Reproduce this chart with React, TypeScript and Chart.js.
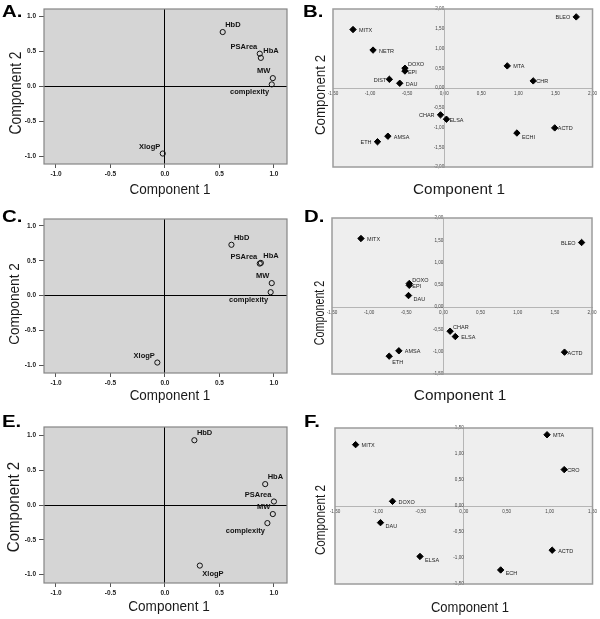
import React, { useEffect, useRef } from 'react';
import { Chart, registerables } from 'chart.js';

Chart.register(...registerables);

// ---------- Panel A (component loadings) ----------
const aVars = ['HbD', 'PSArea', 'HbA', 'MW', 'complexity', 'XlogP'];
const aComp1 = [0.53, 0.87, 0.88, 0.99, 0.98, -0.02];
const aComp2 = [0.78, 0.47, 0.41, 0.12, 0.03, -0.96];
// ---------- Panel C ----------
const cVars = ['HbD', 'PSArea', 'HbA', 'MW', 'complexity', 'XlogP'];
const cComp1 = [0.61, 0.87, 0.88, 0.98, 0.97, -0.07];
const cComp2 = [0.73, 0.46, 0.47, 0.18, 0.05, -0.96];
// ---------- Panel E ----------
const eVars = ['HbD', 'HbA', 'PSArea', 'MW', 'complexity', 'XlogP'];
const eComp1 = [0.27, 0.92, 1.0, 0.99, 0.94, 0.32];
const eComp2 = [0.93, 0.3, 0.05, -0.13, -0.26, -0.87];
const loadTicks = [-1, -0.5, 0, 0.5, 1];

// ---------- Panel B (drug scores) ----------
const bDrugs = ['BLEO', 'MITX', 'NETR', 'DOXO', 'EPI', 'DIST', 'DAU', 'MTA', 'CHR', 'CHAR', 'ELSA', 'ACTD', 'ECHI', 'AMSA', 'ETH'];
const bComp1 = [1.78, -1.23, -0.96, -0.53, -0.53, -0.74, -0.6, 0.85, 1.2, -0.05, 0.03, 1.49, 0.98, -0.76, -0.9];
const bComp2 = [1.8, 1.48, 0.96, 0.5, 0.43, 0.22, 0.12, 0.56, 0.18, -0.68, -0.79, -1.01, -1.14, -1.22, -1.36];
const bXTicks = [-1.5, -1, -0.5, 0, 0.5, 1, 1.5, 2];
const bYTicks = [-2, -1.5, -1, -0.5, 0, 0.5, 1, 1.5, 2];
// ---------- Panel D ----------
const dDrugs = ['MITX', 'BLEO', 'DOXO', 'EPI', 'DAU', 'CHAR', 'ELSA', 'ACTD', 'AMSA', 'ETH'];
const dComp1 = [-1.11, 1.86, -0.46, -0.46, -0.47, 0.09, 0.16, 1.63, -0.6, -0.73];
const dComp2 = [1.54, 1.45, 0.53, 0.49, 0.26, -0.54, -0.66, -1.01, -0.98, -1.1];
const dXTicks = [-1.5, -1, -0.5, 0, 0.5, 1, 1.5, 2];
const dYTicks = [-1.5, -1, -0.5, 0, 0.5, 1, 1.5, 2];
// ---------- Panel F ----------
const fDrugs = ['MTA', 'MITX', 'CRO', 'DOXO', 'DAU', 'ELSA', 'ACTD', 'ECH'];
const fComp1 = [0.97, -1.26, 1.17, -0.83, -0.97, -0.51, 1.03, 0.43];
const fComp2 = [1.37, 1.18, 0.7, 0.09, -0.32, -0.97, -0.85, -1.23];
const fXTicks = [-1.5, -1, -0.5, 0, 0.5, 1, 1.5];
const fYTicks = [-1.5, -1, -0.5, 0, 0.5, 1, 1.5];

// label placement codes (kept apart from the data)
const aPlace = ['NE', 'NW', 'NE', 'NW', 'SW', 'NW'];
const cPlace = ['NE', 'NW', 'NE', 'NW', 'SW', 'NW'];
const ePlace = ['NE', 'NE', 'NW', 'NW', 'SW', 'SE'];
const bPlace = ['W', 'E', 'E', 'NE', 'e', 'w', 'E', 'E', 'e', 'W', 'e', 'e', 'SE', 'E', 'W'];
const dPlace = ['E', 'W', 'NE', 'e', 'SE', 'NE', 'E', 'e', 'E', 'S'];
const fPlace = ['E', 'E', 'e', 'E', 'SE', 'SE', 'E', 'SE'];

const FAMILY = "'Liberation Sans', Arial, Helvetica, sans-serif";

type Off = { dx: number; dy: number; align: CanvasTextAlign };
const LOAD_OFF: Record<string, Off> = {
  NE: { dx: 2.5, dy: -6.8, align: 'left' },
  NW: { dx: -2.5, dy: -6.8, align: 'right' },
  SW: { dx: -2.5, dy: 7.8, align: 'right' },
  SE: { dx: 2.5, dy: 8, align: 'left' },
};
const DRUG_OFF: Record<string, Off> = {
  E: { dx: 6, dy: 1, align: 'left' },
  e: { dx: 3, dy: 1, align: 'left' },
  W: { dx: -6, dy: 1, align: 'right' },
  w: { dx: -3, dy: 1, align: 'right' },
  NE: { dx: 3, dy: -3.5, align: 'left' },
  SE: { dx: 5, dy: 4, align: 'left' },
  S: { dx: 3, dy: 6.5, align: 'left' },
};

function labelPlugin(names: string[], place: string[], offs: Record<string, Off>, font: string, color: string) {
  return {
    id: 'ptLabels',
    afterDatasetsDraw(chart: any) {
      const meta = chart.getDatasetMeta(0);
      const ctx = chart.ctx as CanvasRenderingContext2D;
      ctx.save();
      ctx.font = font;
      ctx.fillStyle = color;
      ctx.textBaseline = 'middle';
      meta.data.forEach((pt: any, i: number) => {
        const o = offs[place[i]] || offs[Object.keys(offs)[0]];
        ctx.textAlign = o.align;
        ctx.fillText(names[i], pt.x + o.dx, pt.y + o.dy);
      });
      ctx.restore();
    },
  };
}

function framePlugin(bg: string, frame: string, lw: number) {
  return {
    id: 'frame',
    beforeDraw(chart: any) {
      const { left, top, width, height } = chart.chartArea;
      const ctx = chart.ctx;
      ctx.save();
      ctx.fillStyle = bg;
      ctx.fillRect(left, top, width, height);
      ctx.restore();
    },
    afterDraw(chart: any) {
      const { left, top, width, height } = chart.chartArea;
      const ctx = chart.ctx;
      ctx.save();
      ctx.strokeStyle = frame;
      ctx.lineWidth = lw;
      ctx.strokeRect(left, top, width, height);
      ctx.restore();
    },
  };
}

const setTicks = (vals: number[]) => (s: any) => {
  s.ticks = vals.map((v) => ({ value: v }));
};

function loadingConfig(
  names: string[], xs: number[], ys: number[], place: string[],
  range: { x0: number; x1: number; y0: number; y1: number },
  pad: { left: number; right: number; top: number; bottom: number }
): any {
  const zeroLine = (c: any) => (c.tick && c.tick.value === 0 ? '#000' : 'rgba(0,0,0,0)');
  const tickFont = { size: 6.5, weight: 'bold' as const, family: FAMILY };
  return {
    type: 'scatter',
    data: {
      datasets: [
        {
          data: xs.map((x, i) => ({ x, y: ys[i] })),
          pointStyle: 'circle',
          pointRadius: 2.6,
          borderWidth: 1,
          borderColor: '#111',
          backgroundColor: 'rgba(0,0,0,0)',
        },
      ],
    },
    options: {
      responsive: false,
      animation: false,
      layout: { padding: pad },
      plugins: { legend: { display: false }, tooltip: { enabled: false } },
      scales: {
        x: {
          type: 'linear', min: range.x0, max: range.x1,
          afterBuildTicks: setTicks(loadTicks),
          afterFit: (s: any) => { s.height = 22; },
          grid: { color: zeroLine, tickColor: '#555', tickLength: 4, lineWidth: 1 },
          border: { display: false },
          ticks: { font: tickFont, color: '#222', padding: 2, maxRotation: 0, autoSkip: false,
            callback: (v: any) => Number(v).toFixed(1) },
        },
        y: {
          type: 'linear', min: range.y0, max: range.y1,
          afterBuildTicks: setTicks(loadTicks),
          afterFit: (s: any) => { s.width = 44; },
          grid: { color: zeroLine, tickColor: '#555', tickLength: 5, lineWidth: 1 },
          border: { display: false },
          ticks: { font: tickFont, color: '#222', padding: 3, autoSkip: false,
            callback: (v: any) => Number(v).toFixed(1) },
        },
      },
    },
    plugins: [
      framePlugin('#d5d5d5', '#858585', 1.2),
      labelPlugin(names, place, LOAD_OFF, `bold 7.5px ${FAMILY}`, '#111'),
    ],
  };
}

const comma = (v: any) => Number(v).toFixed(2).replace('.', ',');

function scoreConfig(
  names: string[], xs: number[], ys: number[], place: string[],
  xTicks: number[], yTicks: number[],
  pad: { left: number; right: number; top: number; bottom: number }
): any {
  const tickFont = { size: 4.6, family: FAMILY };
  return {
    type: 'scatter',
    data: {
      datasets: [
        {
          data: xs.map((x, i) => ({ x, y: ys[i] })),
          pointStyle: 'rectRot',
          pointRadius: 3.2,
          borderWidth: 1,
          borderColor: '#000',
          backgroundColor: '#000',
        },
      ],
    },
    options: {
      responsive: false,
      animation: false,
      layout: { padding: pad },
      plugins: { legend: { display: false }, tooltip: { enabled: false } },
      scales: {
        x: {
          type: 'linear', min: xTicks[0], max: xTicks[xTicks.length - 1],
          position: { y: 0 },
          afterBuildTicks: setTicks(xTicks),
          grid: { display: false, drawTicks: false },
          border: { color: '#b5b5b5', width: 1 },
          ticks: { font: tickFont, color: '#444', padding: 3, maxRotation: 0, autoSkip: false, callback: comma },
        },
        y: {
          type: 'linear', min: yTicks[0], max: yTicks[yTicks.length - 1],
          position: { x: 0 },
          afterBuildTicks: setTicks(yTicks),
          grid: { display: false, drawTicks: false },
          border: { color: '#b5b5b5', width: 1 },
          ticks: { font: tickFont, color: '#444', padding: 3, autoSkip: false, callback: comma },
        },
      },
    },
    plugins: [
      framePlugin('#eeeeee', '#9c9c9c', 1.5),
      labelPlugin(names, place, DRUG_OFF, `5.5px ${FAMILY}`, '#222'),
    ],
  };
}

function Panel({ left, top, width, height, build }: { left: number; top: number; width: number; height: number; build: () => any }) {
  const ref = useRef<HTMLCanvasElement>(null);
  useEffect(() => {
    const chart = new Chart(ref.current as HTMLCanvasElement, build());
    return () => chart.destroy();
  }, []);
  return (
    <canvas
      ref={ref}
      width={width}
      height={height}
      style={{ position: 'absolute', left, top, width, height }}
    />
  );
}

function Title({ x, y, size, sx, vertical, children }: { x: number; y: number; size: number; sx: number; vertical?: boolean; children: string }) {
  const off = 0.0935 * size;
  const style: React.CSSProperties = {
    position: 'absolute',
    left: vertical ? x - off : x,
    top: vertical ? y : y - off,
    fontFamily: FAMILY,
    fontSize: size,
    lineHeight: 1,
    whiteSpace: 'nowrap',
    color: '#1a1a1a',
    transform: vertical
      ? `translate(-50%,-50%) rotate(-90deg) scaleX(${sx})`
      : `translate(-50%,-50%) scaleX(${sx})`,
  };
  return <div style={style}>{children}</div>;
}

function Letter({ x, y, children }: { x: number; y: number; children: string }) {
  return (
    <div
      style={{
        position: 'absolute', left: x, top: y - 2.2,
        fontFamily: FAMILY, fontWeight: 'bold', fontSize: 17, lineHeight: 1,
        transform: 'scaleX(1.2)', transformOrigin: 'left top', color: '#000',
      }}
    >
      {children}
    </div>
  );
}

export default function App() {
  useEffect(() => {
    document.body.style.margin = '0';
  }, []);
  return (
    <div style={{ position: 'absolute', left: 0, top: 0, width: 600, height: 619, background: '#fff', overflow: 'hidden' }}>
      <Panel left={0} top={0} width={300} height={205}
        build={() => loadingConfig(aVars, aComp1, aComp2, aPlace,
          { x0: -1.11, x1: 1.12, y0: -1.11, y1: 1.11 }, { left: 0, right: 13, top: 9, bottom: 19 })} />
      <Panel left={300} top={0} width={300} height={205}
        build={() => scoreConfig(bDrugs, bComp1, bComp2, bPlace, bXTicks, bYTicks,
          { left: 33, right: 7, top: 9, bottom: 38 })} />
      <Panel left={0} top={205} width={300} height={205}
        build={() => loadingConfig(cVars, cComp1, cComp2, cPlace,
          { x0: -1.11, x1: 1.12, y0: -1.11, y1: 1.1 }, { left: 0, right: 13, top: 14, bottom: 15 })} />
      <Panel left={300} top={205} width={300} height={205}
        build={() => scoreConfig(dDrugs, dComp1, dComp2, dPlace, dXTicks, dYTicks,
          { left: 32, right: 8, top: 13, bottom: 36 })} />
      <Panel left={0} top={410} width={300} height={209}
        build={() => loadingConfig(eVars, eComp1, eComp2, ePlace,
          { x0: -1.11, x1: 1.12, y0: -1.12, y1: 1.12 }, { left: 0, right: 13, top: 17, bottom: 14 })} />
      <Panel left={300} top={410} width={300} height={209}
        build={() => scoreConfig(fDrugs, fComp1, fComp2, fPlace, fXTicks, fYTicks,
          { left: 35, right: 7, top: 18, bottom: 35 })} />

      <Letter x={2} y={5}>A.</Letter>
      <Letter x={303} y={5}>B.</Letter>
      <Letter x={2} y={210}>C.</Letter>
      <Letter x={304} y={210}>D.</Letter>
      <Letter x={2} y={415}>E.</Letter>
      <Letter x={304} y={415}>F.</Letter>

      <Title x={170} y={189.7} size={15} sx={0.9}>Component 1</Title>
      <Title x={17.5} y={93.3} size={16} sx={0.865} vertical>Component 2</Title>
      <Title x={459.2} y={189.7} size={15} sx={1.02}>Component 1</Title>
      <Title x={320.3} y={95} size={15} sx={0.89} vertical>Component 2</Title>
      <Title x={170} y={396.2} size={14} sx={0.96}>Component 1</Title>
      <Title x={15} y={304.2} size={14} sx={0.97} vertical>Component 2</Title>
      <Title x={459.5} y={396.7} size={14} sx={1.1}>Component 1</Title>
      <Title x={320} y={312.5} size={14} sx={0.77} vertical>Component 2</Title>
      <Title x={169.2} y={607.8} size={14} sx={0.97}>Component 1</Title>
      <Title x={15.8} y={506.7} size={16} sx={0.94} vertical>Component 2</Title>
      <Title x={470} y={608.8} size={14} sx={0.93}>Component 1</Title>
      <Title x={320.3} y={520} size={15} sx={0.78} vertical>Component 2</Title>
    </div>
  );
}
